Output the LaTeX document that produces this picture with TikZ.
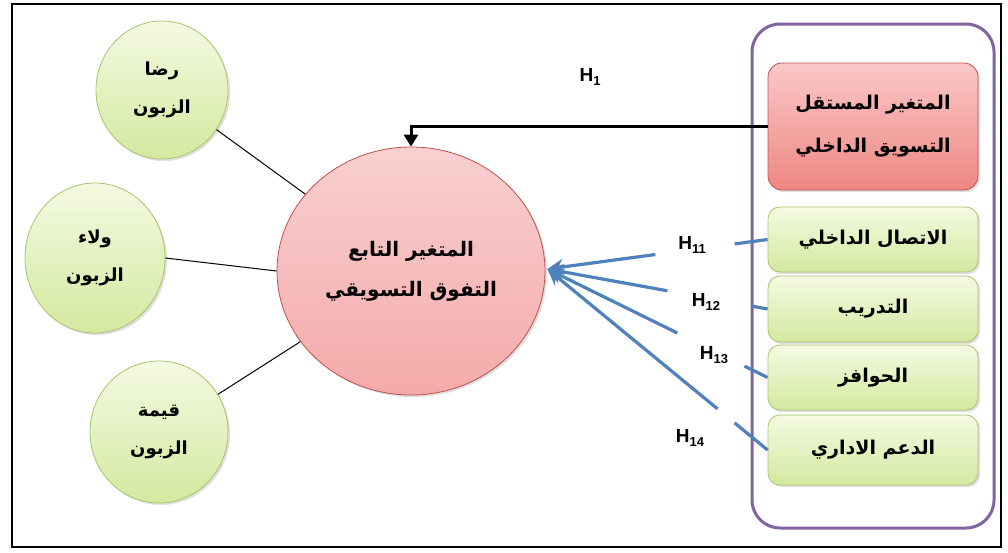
\documentclass[tikz,border=0pt]{standalone}
\usepackage{fontspec}
\setmainfont{Liberation Sans}
\newfontfamily\arabicfont[Script=Arabic]{DejaVu Sans}
\TeXXeTstate=1
\usetikzlibrary{shapes.geometric,arrows.meta,shadows,calc}
\definecolor{gtop}{HTML}{F4FAE2}
\definecolor{gbot}{HTML}{D3E9A0}
\definecolor{gline}{HTML}{A9C46C}
\definecolor{ptop}{HTML}{F9D0D0}
\definecolor{pbot}{HTML}{F4AAAA}
\definecolor{pline}{HTML}{C0504D}
\definecolor{rtop}{HTML}{FAC8C8}
\definecolor{rbot}{HTML}{EE8782}
\definecolor{frameline}{HTML}{8064A2}
\definecolor{blueline}{HTML}{4F81BD}
\tikzset{
  ar/.style={font=\arabicfont\bfseries\fontsize{18}{38}\selectfont, align=center},
  gcirc/.style={ellipse, ar, draw=gline, line width=0.8pt, top color=gtop, bottom color=gbot,
    drop shadow={opacity=0.25, shadow xshift=2pt, shadow yshift=-2pt}},
  pcirc/.style={ellipse, ar, draw=pline, line width=0.8pt, top color=ptop, bottom color=pbot,
    drop shadow={opacity=0.25, shadow xshift=2pt, shadow yshift=-2pt}},
  rbox/.style={rectangle, rounded corners=14pt, ar, draw=pline, line width=0.8pt,
    top color=rtop, bottom color=rbot, minimum width=210pt,
    drop shadow={opacity=0.25, shadow xshift=2pt, shadow yshift=-2pt}},
  gbox/.style={rectangle, rounded corners=12pt, ar, draw=gline, line width=0.8pt,
    top color=gtop, bottom color=gbot, minimum width=210pt,
    font=\arabicfont\bfseries\fontsize{19}{38}\selectfont,
    drop shadow={opacity=0.25, shadow xshift=2pt, shadow yshift=-2pt}},
  link/.style={line width=1pt, black},
  bluearrow/.style={line width=3.2pt, blueline, -{Stealth[length=16pt,width=16pt]}},
  blueseg/.style={line width=3.2pt, blueline},
  hlabel/.style={font=\bfseries\fontsize{19}{19}\selectfont, inner sep=1pt}
}
\newcommand{\Hsub}[1]{H\raisebox{-4pt}{\fontsize{13}{13}\selectfont #1}}
\begin{document}
\begin{tikzpicture}[x=1pt,y=-1pt]
\useasboundingbox (0,0) rectangle (1008,552);
\fill[white] (0,0) rectangle (1008,552);
\draw[line width=2pt] (12,4) rectangle (1001,547);

% left circles
\node[gcirc, minimum width=132pt, minimum height=138pt] (c1) at (162,90) {\beginR رضا\endR\\\beginR الزبون\endR};
\node[gcirc, minimum width=140pt, minimum height=150pt] (c2) at (95,258) {\beginR ولاء\endR\\\beginR الزبون\endR};
\node[gcirc, minimum width=138pt, minimum height=142pt] (c3) at (159,432) {\beginR قيمة\endR\\\beginR الزبون\endR};

% dependent variable
\node[pcirc, minimum width=268pt, minimum height=248pt, font=\arabicfont\bfseries\fontsize{20}{40}\selectfont] (dep) at (411,271) {\beginR المتغير التابع\endR\\\beginR التفوق التسويقي\endR};

\draw[link] (c1) -- (dep);
\draw[link] (c2.east) -- (dep.west);
\draw[link] (c3) -- (dep);

% independent frame
\node[draw=frameline, line width=3pt, rounded corners=28pt, minimum width=242pt, minimum height=504pt] (frame) at (873,276) {};
\node[rbox, minimum height=127pt, font=\arabicfont\bfseries\fontsize{19}{43}\selectfont] (ind) at (873,126.5) {\beginR المتغير المستقل\endR\\\beginR التسويق الداخلي\endR};
\node[gbox, minimum height=65pt] (g1) at (873,239.5) {\beginR الاتصال الداخلي\endR};
\node[gbox, minimum height=66pt] (g2) at (873,309) {\beginR التدريب\endR};
\node[gbox, minimum height=65pt] (g3) at (873,377.5) {\beginR الحوافز\endR};
\node[gbox, minimum height=70pt] (g4) at (873,450) {\beginR الدعم الاداري\endR};

% H1 arrow
\draw[line width=3pt, -{Triangle[length=12pt,width=14pt]}] (ind.west) -| (dep.north);
\node[hlabel] (h1) at (590,77) {\Hsub{1}};

% blue arrows
\coordinate (tip) at ($(dep.east)+(2,-2)$);
\draw[blueseg] (g1.west) -- ($(g1.west)!0.15!(tip)$);
\draw[bluearrow] ($(g1.west)!0.51!(tip)$) -- (tip);
\draw[blueseg] (g2.west) -- ($(g2.west)!0.073!(tip)$);
\draw[bluearrow] ($(g2.west)!0.455!(tip)$) -- (tip);
\draw[blueseg] (g3.west) -- ($(g3.west)!0.105!(tip)$);
\draw[bluearrow] ($(g3.west)!0.41!(tip)$) -- (tip);
\draw[blueseg] (g4.west) -- ($(g4.west)!0.15!(tip)$);
\draw[bluearrow] ($(g4.west)!0.227!(tip)$) -- (tip);

\node[hlabel] (h11) at (692,245) {\Hsub{11}};
\node[hlabel] (h12) at (706,302) {\Hsub{12}};
\node[hlabel] (h13) at (714,355) {\Hsub{13}};
\node[hlabel] (h14) at (690,438) {\Hsub{14}};
\end{tikzpicture}
\end{document}
